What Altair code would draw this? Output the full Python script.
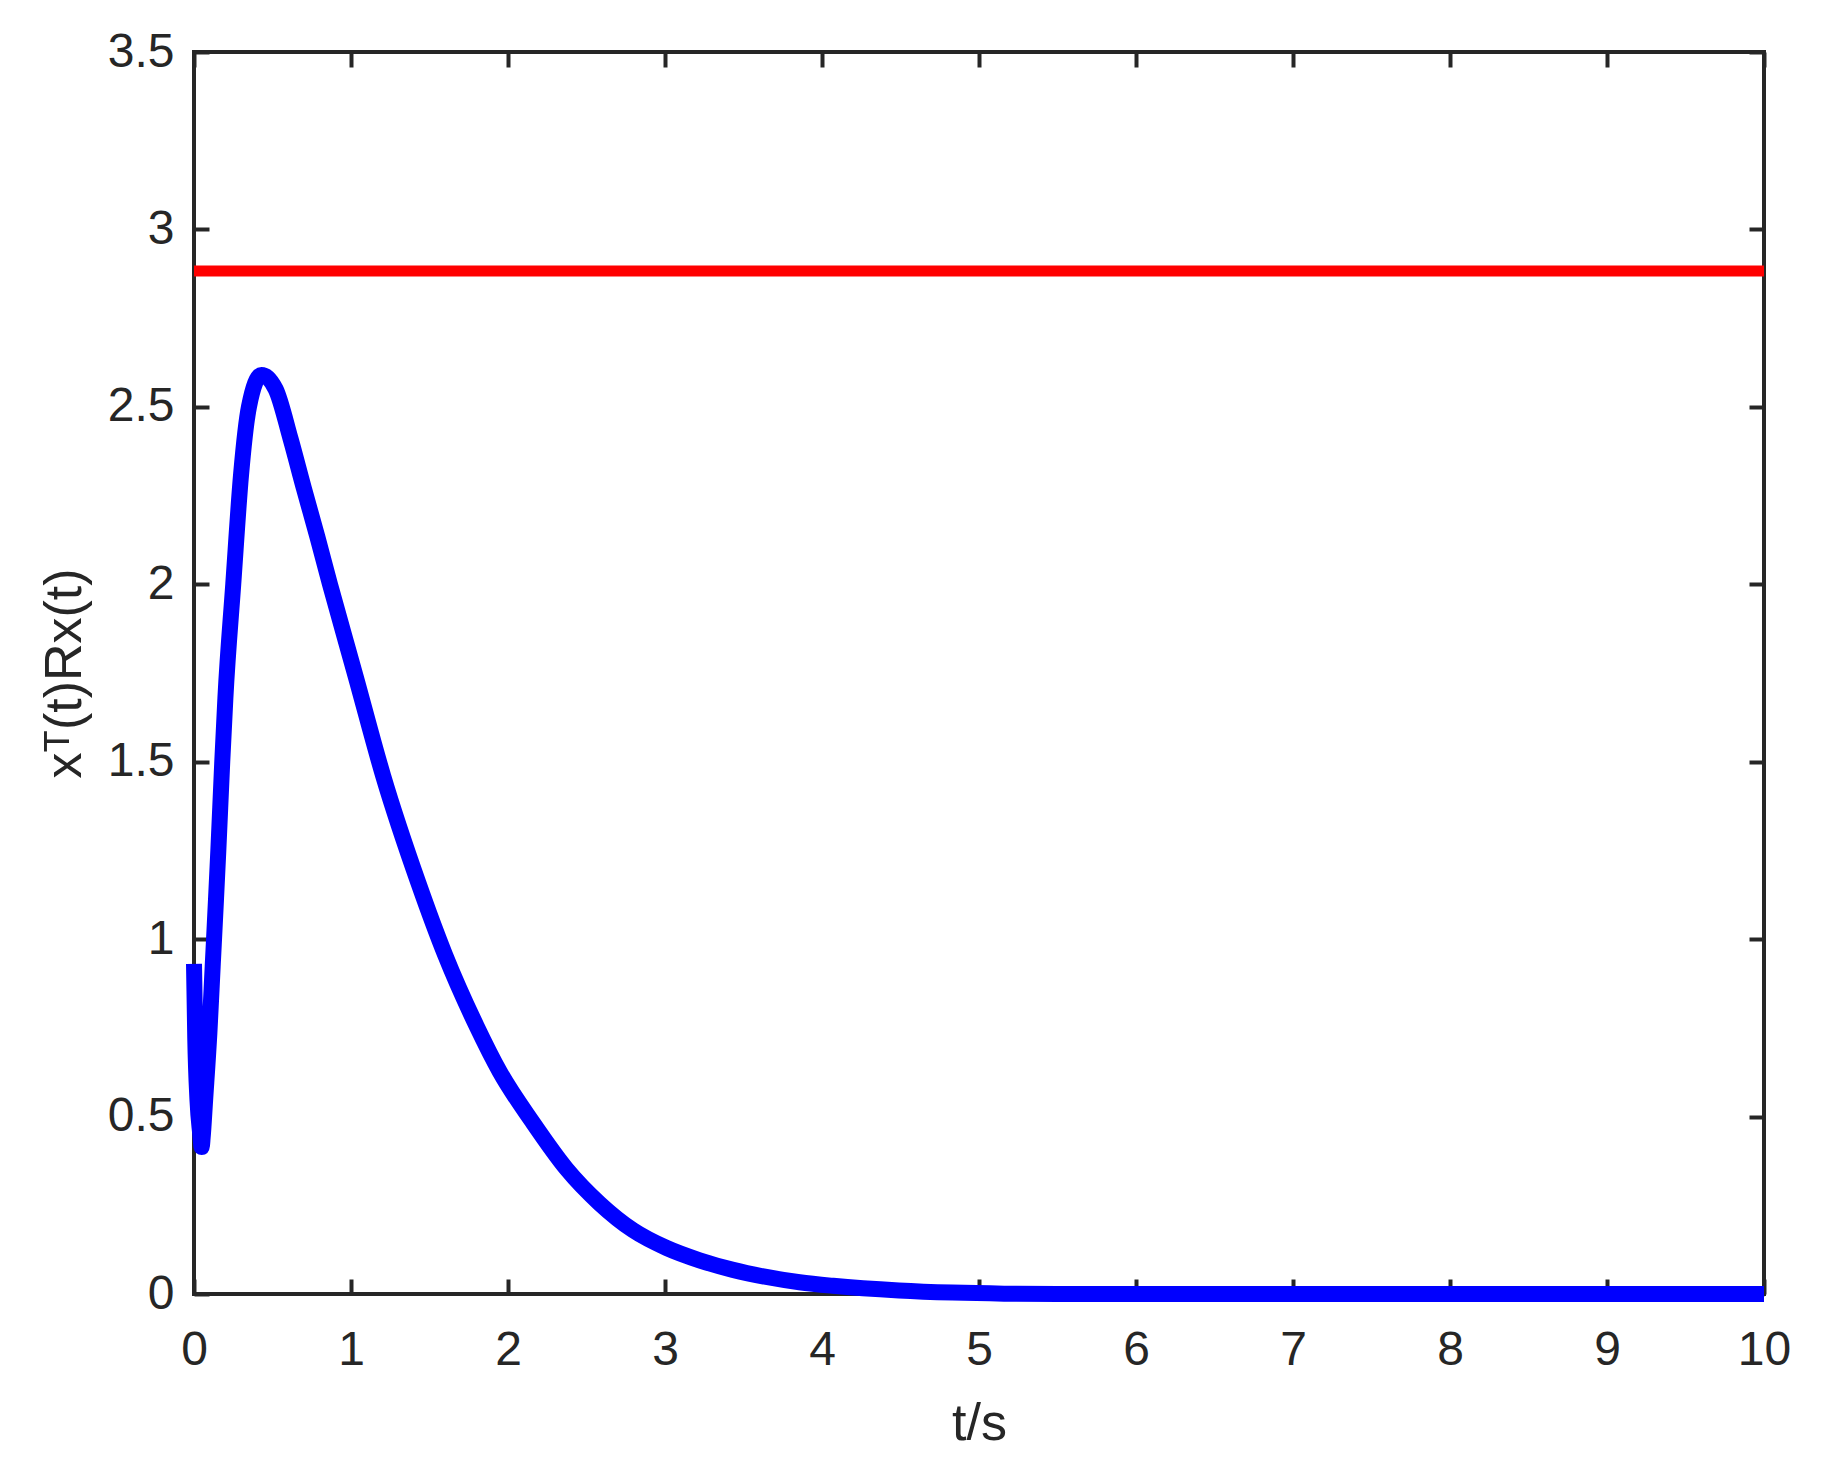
import altair as alt
import pandas as pd

# Blue curve x^T(t) R x(t)
t_vals = [0, 0.008, 0.022, 0.039, 0.049, 0.055, 0.071, 0.098, 0.119, 0.14, 0.155, 0.18,
          0.20, 0.25, 0.30, 0.35, 0.43, 0.52, 0.615, 0.70, 0.785, 0.866, 1.03, 1.205,
          1.428, 1.6, 1.8, 1.948, 2.16, 2.372, 2.584, 2.796, 3.009, 3.22, 3.433, 3.645,
          3.857, 4.07, 4.49, 4.83, 5.16, 5.5, 6, 7, 8, 9, 10]
y_vals = [0.93, 0.72, 0.547, 0.454, 0.414, 0.44, 0.547, 0.735, 0.923, 1.111, 1.25, 1.5,
          1.68, 2.0, 2.31, 2.5, 2.59, 2.55, 2.41, 2.27, 2.135, 2.0, 1.74, 1.46,
          1.16, 0.955, 0.755, 0.626, 0.482, 0.353, 0.255, 0.18, 0.13, 0.095, 0.068, 0.048,
          0.033, 0.023, 0.010, 0.004, 0.001, 0, 0, 0, 0, 0, 0]

# Red bound line
bound_t = [0, 10]
bound_y = [2.883, 2.883]

x_ticks = [0, 1, 2, 3, 4, 5, 6, 7, 8, 9, 10]
y_ticks = [0, 0.5, 1, 1.5, 2, 2.5, 3, 3.5]

W, H = 1570, 1242
INK = "#262626"

curve = pd.DataFrame({"t": t_vals, "v": y_vals})
bound = pd.DataFrame({"t": bound_t, "v": bound_y})

xs = alt.Scale(domain=[0, 10], nice=False)
ys = alt.Scale(domain=[0, 3.5], nice=False)

tick_common = dict(labels=False, domain=False, ticks=True, tickSize=15, tickWidth=4,
                   tickColor=INK, grid=False, title="")

# inward ticks at bottom and left edges
red1 = alt.Chart(bound).mark_line(color="#FF0000", strokeWidth=11, strokeCap="butt").encode(
    x=alt.X("t:Q", scale=xs, axis=alt.Axis(orient="top", offset=-H, values=x_ticks, **tick_common)),
    y=alt.Y("v:Q", scale=ys, axis=alt.Axis(orient="right", offset=-W, values=y_ticks, **tick_common)),
)
# inward ticks at top and right edges
red2 = alt.Chart(bound).mark_line(color="#FF0000", strokeWidth=11, strokeCap="butt", opacity=0).encode(
    x=alt.X("t:Q", scale=xs, axis=alt.Axis(orient="bottom", offset=-H, values=x_ticks, **tick_common)),
    y=alt.Y("v:Q", scale=ys, axis=alt.Axis(orient="left", offset=-W, values=y_ticks, **tick_common)),
)

blue = alt.Chart(curve).mark_line(color="#0000FF", strokeWidth=16, strokeCap="butt",
                                  strokeJoin="round", interpolate="monotone").encode(
    x=alt.X("t:Q", scale=xs, axis=alt.Axis(orient="bottom", values=x_ticks, format=".1~f",
                                            ticks=False, domain=False, grid=False,
                                            labelPadding=32, title="t/s", titlePadding=24,
                                            labelFlush=False)),
    y=alt.Y("v:Q", scale=ys, axis=alt.Axis(orient="left", values=y_ticks, format=".1~f",
                                            ticks=False, domain=False, grid=False,
                                            labelPadding=20, title="xᵀ(t)Rx(t)",
                                            titlePadding=16, labelFlush=False)),
    order=alt.Order("t:Q"),
)

chart = alt.layer(red1, red2, blue).resolve_axis(x="independent", y="independent").properties(
    width=W, height=H,
    background="white",
    autosize=alt.AutoSizeParams(type="none"),
    padding={"left": 186, "top": 44, "right": 50, "bottom": 162},
).configure_view(
    stroke=INK, strokeWidth=4
).configure_axis(
    labelFont="Liberation Sans", labelFontSize=48, labelColor=INK,
    titleFont="Liberation Sans", titleFontSize=52, titleColor=INK, titleFontWeight="normal",
)

chart.save("out.html", embed_options={"renderer": "svg", "actions": False})
